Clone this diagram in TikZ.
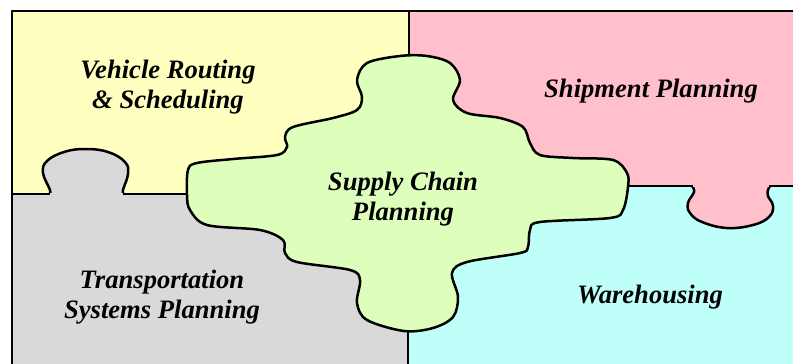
\documentclass[tikz,border=0pt]{standalone}
\usepackage{fontspec}
\setmainfont{Liberation Serif}
\begin{document}
\begin{tikzpicture}[x=1pt,y=-1pt,
  edge/.style={line width=2.5pt,line join=round},
  lbl/.style={align=center,font=\fontsize{26.6}{30}\selectfont\bfseries\itshape,inner sep=0pt}]
\definecolor{cyel}{RGB}{255,255,191}
\definecolor{cpink}{RGB}{255,192,203}
\definecolor{cgray}{RGB}{217,217,217}
\definecolor{ccyan}{RGB}{191,255,250}
\definecolor{cgreen}{RGB}{221,255,187}
\useasboundingbox (0,0) rectangle (793,364);
\clip (0,0) rectangle (793,364);
% base regions
\fill[cyel] (12,11) rectangle (409,194);
\fill[cgray] (12,194) rectangle (408,370);
\fill[cpink] (409,11) rectangle (800,186);
\fill[ccyan] (408,186) rectangle (800,370);
% dividers
\draw[edge] (12,194) -- (188,194);
\draw[edge] (409,11) -- (409,100);
\draw[edge] (408,300) -- (408,370);
\draw[edge] (600,186) -- (800,186);
% gray knob
\filldraw[fill=cgray,edge] plot[smooth,tension=0.7] coordinates {(49,194) (50,190) (43,173) (47,161) (64,152) (85,149) (108,152) (125,162) (128,174) (123,190) (124,194)};
\fill[cgray] (50,193) rectangle (123,200);
% pink knob
\filldraw[fill=cpink,edge] plot[smooth,tension=0.7] coordinates {(692,186) (694,192) (688,203) (690,213) (702,222) (727,228) (753,225) (769,217) (773,206) (768,196) (768,190) (770,186)};
\fill[cpink] (693,180) rectangle (769,187);
% outer frame
\draw[edge] (12,400) -- (12,11) -- (800,11);
% green piece
\filldraw[fill=cgreen,edge] plot[smooth cycle,tension=0.55] coordinates {
 (400,56) (427,56) (450,63) (460,80) (453,100) (467,113) (500,118) (523,127)
 (530,143) (540,155) (573,158) (613,160) (627,173) (628,187) (623,210) (610,218)
 (540,222) (530,230) (528,247) (520,253) (467,262) (452,273) (458,297) (453,317)
 (433,328) (404,331) (367,320) (357,303) (360,280) (350,270) (297,262) (285,253)
 (283,240) (260,230) (207,225) (190,210) (187,195) (188,170) (197,163) (233,159)
 (277,155) (287,147) (285,137) (293,127) (333,118) (357,110) (362,97) (357,80)
 (367,63)};
% labels
\node[lbl] (veh) at (168,87) {Vehicle Routing\\\& Scheduling};
\node[lbl] (ship) at (651,91) {Shipment Planning};
\node[lbl] (scp) at (403,199) {Supply Chain\\Planning};
\node[lbl] (tsp) at (162,297) {Transportation\\Systems Planning};
\node[lbl] (wh) at (650,297) {Warehousing};
\end{tikzpicture}
\end{document}
